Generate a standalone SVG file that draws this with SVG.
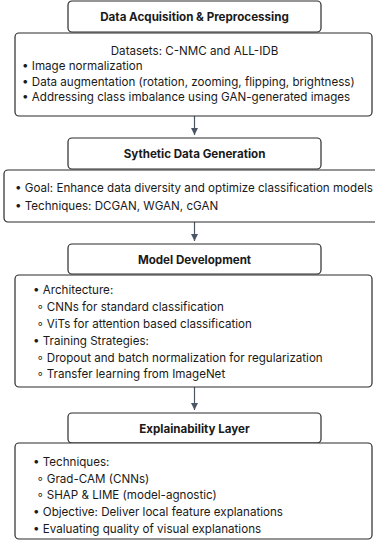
<svg xmlns="http://www.w3.org/2000/svg" width="375" height="541" viewBox="0 0 375 541">
<defs>
<marker id="ah" viewBox="0 0 10 10" refX="10" refY="5" markerWidth="7" markerHeight="7" orient="auto" markerUnits="userSpaceOnUse">
<path d="M0,0 L10,5 L0,10 z" fill="#4a5565"/>
</marker>
<style>
.box{fill:#ffffff;stroke:#2b2b2b;stroke-width:1.2}
.hd{font-family:Inter,"Liberation Sans",sans-serif;font-size:11.6px;font-weight:700;fill:#1a1a1a;text-anchor:middle}
.tx{font-family:Inter,"Liberation Sans",sans-serif;font-size:11.6px;fill:#1a1a1a}
.edge{stroke:#4a5565;stroke-width:1.2;fill:none;marker-end:url(#ah)}
</style>
</defs>
<rect width="375" height="541" fill="#ffffff"/>
<g id="connectors">
<line class="edge" x1="194.5" y1="116" x2="194.5" y2="135"/>
<line class="edge" x1="194.5" y1="222" x2="194.5" y2="241"/>
<line class="edge" x1="194.5" y1="387" x2="194.5" y2="410"/>
</g>
<g id="n1-header">
<rect class="box" x="68" y="1" width="253" height="31" rx="4"/>
<text class="hd" x="194.5" y="21">Data Acquisition &amp; Preprocessing</text>
</g>
<g id="n1-body">
<rect class="box" x="15" y="33" width="357" height="83" rx="4"/>
<text class="tx" x="194.5" y="55" text-anchor="middle">Datasets: C-NMC and ALL-IDB</text>
<text class="tx" x="22" y="70">• Image normalization</text>
<text class="tx" x="22" y="86">• Data augmentation (rotation, zooming, flipping, brightness)</text>
<text class="tx" x="22" y="101">• Addressing class imbalance using GAN-generated images</text>
</g>
<g id="n2-header">
<rect class="box" x="68" y="138" width="253" height="31" rx="4"/>
<text class="hd" x="194.5" y="158">Sythetic Data Generation</text>
</g>
<g id="n2-body">
<rect class="box" x="4" y="170" width="380" height="52" rx="4"/>
<text class="tx" x="15" y="192">• Goal: Enhance data diversity and optimize classification models</text>
<text class="tx" x="15" y="210">• Techniques: DCGAN, WGAN, cGAN</text>
</g>
<g id="n3-header">
<rect class="box" x="68" y="244" width="253" height="30" rx="4"/>
<text class="hd" x="194.5" y="264">Model Development</text>
</g>
<g id="n3-body">
<rect class="box" x="15" y="275" width="357" height="112" rx="4"/>
<text class="tx" x="33" y="294">• Architecture:</text>
<text class="tx" x="37" y="311">◦ CNNs for standard classification</text>
<text class="tx" x="37" y="328">◦ ViTs for attention based classification</text>
<text class="tx" x="33" y="345">• Training Strategies:</text>
<text class="tx" x="37" y="362">◦ Dropout and batch normalization for regularization</text>
<text class="tx" x="37" y="378">◦ Transfer learning from ImageNet</text>
</g>
<g id="n4-header">
<rect class="box" x="68" y="413" width="253" height="30" rx="4"/>
<text class="hd" x="194.5" y="433">Explainability Layer</text>
</g>
<g id="n4-body">
<rect class="box" x="15" y="443" width="357" height="96" rx="4"/>
<text class="tx" x="33" y="466">• Techniques:</text>
<text class="tx" x="37" y="483">◦ Grad-CAM (CNNs)</text>
<text class="tx" x="37" y="499">◦ SHAP &amp; LIME (model-agnostic)</text>
<text class="tx" x="33" y="516">• Objective: Deliver local feature explanations</text>
<text class="tx" x="33" y="533">• Evaluating quality of visual explanations</text>
</g>
</svg>
